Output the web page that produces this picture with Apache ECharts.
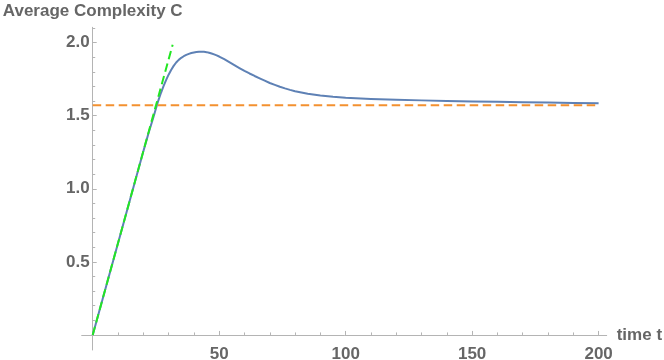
<!DOCTYPE html>
<html>
<head>
<meta charset="utf-8">
<script src="https://cdn.jsdelivr.net/npm/echarts@6/dist/echarts.min.js"></script>
<style>
html,body{margin:0;padding:0;background:#fff;}
#chart{width:664px;height:360px;}
</style>
</head>
<body>
<div id="chart"></div>
<script>
// ---- data ----
const blueT = [0,10,20,21,22,23,24,25,26,27,28,29,30,31,32,33,34,35,36,37,38,39,40,41,42,43,44,45,46,47,48,49,50,52,54,56,58,60,62,64,66,68,70,72,74,76,78,80,85,90,95,100,110,120,130,140,150,160,170,180,190,200];
const blueC = [0,0.628,1.255,1.316,1.376,1.433,1.49,1.55,1.607,1.657,1.702,1.744,1.781,1.813,1.841,1.864,1.882,1.896,1.907,1.916,1.923,1.929,1.933,1.936,1.938,1.938,1.937,1.935,1.931,1.926,1.920,1.913,1.905,1.887,1.867,1.846,1.826,1.807,1.789,1.772,1.756,1.740,1.724,1.711,1.698,1.687,1.677,1.668,1.651,1.639,1.630,1.623,1.615,1.610,1.605,1.601,1.598,1.595,1.592,1.590,1.587,1.585];
const orangeT = [0, 200];
const orangeC = [1.571, 1.571];
const greenT = [0, 31.6];
const greenC = [0, 1.985];

const xMajorTicks = [50, 100, 150, 200];
const xMinorTicks = [10,20,30,40,60,70,80,90,110,120,130,140,160,170,180,190];
const yMajorTicks = [0.5, 1.0, 1.5, 2.0];
const yMinorTicks = [0.1,0.2,0.3,0.4,0.6,0.7,0.8,0.9,1.1,1.2,1.3,1.4,1.6,1.7,1.8,1.9,2.1];
const xTitle = 'time t';
const yTitle = 'Average Complexity C';

const xRange = [-4.35, 203.2];
const yRange = [-0.103, 2.105];

const pairs = (a, b) => a.map((v, i) => [v, b[i]]);

const axisGray = '#b4b4b4';
const textGray = '#666666';
const font = 'Liberation Sans, Arial, sans-serif';

const chart = echarts.init(document.getElementById('chart'), null, {renderer: 'canvas'});

const option = {
  animation: false,
  backgroundColor: '#ffffff',
  grid: {left: 81.7, right: 57.3, top: 27.3, bottom: 10, containLabel: false, outerBoundsMode: 'none'},
  xAxis: [
    {
      type: 'value', min: xRange[0], max: xRange[1], position: 'bottom',
      splitLine: {show: false},
      axisLine: {show: true, onZero: true, lineStyle: {color: axisGray, width: 1}},
      axisTick: {show: true, inside: true, length: 4, customValues: xMajorTicks, lineStyle: {color: axisGray}},
      axisLabel: {show: true, customValues: xMajorTicks, margin: -4, color: textGray,
                  fontFamily: font, fontWeight: 'bold', fontSize: 17,
                  formatter: v => String(Math.round(v))},
      name: xTitle, nameLocation: 'end', nameGap: 10,
      nameTextStyle: {color: textGray, fontFamily: font, fontWeight: 'bold', fontSize: 17, padding: [4,0,0,0]}
    },
    {
      type: 'value', min: xRange[0], max: xRange[1], position: 'bottom',
      splitLine: {show: false},
      axisLine: {show: false, onZero: true},
      axisTick: {show: true, inside: true, length: 2.5, customValues: xMinorTicks, lineStyle: {color: axisGray}},
      axisLabel: {show: false}
    }
  ],
  yAxis: [
    {
      type: 'value', min: yRange[0], max: yRange[1], position: 'left',
      splitLine: {show: false},
      axisLine: {show: true, onZero: true, lineStyle: {color: axisGray, width: 1}},
      axisTick: {show: true, inside: true, length: 4, customValues: yMajorTicks, lineStyle: {color: axisGray}},
      axisLabel: {show: true, customValues: yMajorTicks, margin: -8, color: textGray,
                  fontFamily: font, fontWeight: 'bold', fontSize: 17,
                  formatter: v => v.toFixed(1)},
      name: yTitle, nameLocation: 'end', nameGap: 7,
      nameTextStyle: {color: textGray, fontFamily: font, fontWeight: 'bold', fontSize: 17}
    },
    {
      type: 'value', min: yRange[0], max: yRange[1], position: 'left',
      splitLine: {show: false},
      axisLine: {show: false, onZero: true},
      axisTick: {show: true, inside: true, length: 2.5, customValues: yMinorTicks, lineStyle: {color: axisGray}},
      axisLabel: {show: false}
    }
  ],
  series: [
    {
      type: 'line', name: 'C', xAxisIndex: 0, yAxisIndex: 0,
      data: pairs(blueT, blueC), showSymbol: false, symbol: 'none',
      smooth: false,
      lineStyle: {color: '#5E81B5', width: 2, join: 'round'}, z: 3
    },
    {
      type: 'line', name: 'limit', xAxisIndex: 0, yAxisIndex: 0,
      data: pairs(orangeT, orangeC), showSymbol: false, symbol: 'none',
      lineStyle: {color: '#f39130', width: 2, type: [8.5, 4.5]}, z: 4
    },
    {
      type: 'line', name: 'slope', xAxisIndex: 0, yAxisIndex: 0,
      data: pairs(greenT, greenC), showSymbol: false, symbol: 'none',
      lineStyle: {color: '#22e622', width: 2, type: [8.5, 4.5]}, z: 5
    }
  ]
};
chart.setOption(option);
</script>
</body>
</html>
